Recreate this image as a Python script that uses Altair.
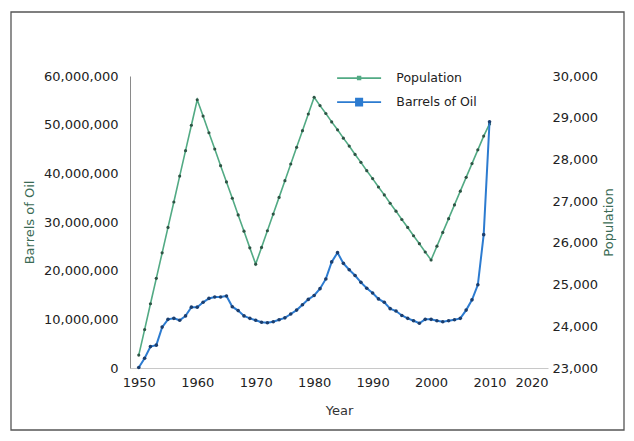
import altair as alt
import pandas as pd

years = list(range(1950, 2011))

oil = [
    100000, 2000000, 4400000, 4700000, 8400000, 10000000, 10200000, 9800000, 10700000, 12500000,
    12500000, 13500000, 14300000, 14600000, 14600000, 14800000, 12600000, 11800000, 10700000, 10200000,
    9800000, 9400000, 9300000, 9500000, 9900000, 10300000, 11100000, 11900000, 13000000, 14100000,
    14900000, 16300000, 18300000, 21800000, 23700000, 21500000, 20200000, 19000000, 17600000, 16400000,
    15400000, 14200000, 13500000, 12200000, 11700000, 10800000, 10200000, 9700000, 9200000, 10000000,
    10000000, 9700000, 9500000, 9700000, 9900000, 10200000, 11900000, 14000000, 17100000, 27400000,
    50600000,
]

population = [
    23310, 23920, 24540, 25150, 25760, 26370, 26980, 27600, 28210, 28820,
    29430, 29040, 28640, 28250, 27850, 27460, 27070, 26670, 26280, 25880,
    25490, 25890, 26290, 26690, 27090, 27490, 27890, 28290, 28690, 29090,
    29490, 29290, 29100, 28900, 28710, 28510, 28320, 28120, 27930, 27730,
    27540, 27340, 27150, 26950, 26760, 26560, 26370, 26170, 25980, 25780,
    25590, 25920, 26250, 26580, 26910, 27240, 27570, 27900, 28230, 28560,
    28850,
]

pop_name = "Population"
oil_name = "Barrels of Oil"
pop_color = "#52aa84"
oil_color = "#2c7bd0"
oil_ticks = [0, 10000000, 20000000, 30000000, 40000000, 50000000, 60000000]
pop_ticks = [23000, 24000, 25000, 26000, 27000, 28000, 29000, 30000]
year_ticks = [1950, 1960, 1970, 1980, 1990, 2000, 2010, 2020]

df = pd.DataFrame({"Year": years, "Oil": oil, "Population": population})

W, H = 418, 292
FONT = "DejaVu Sans"
TITLE_GREEN = "#3b6b55"

# legend symbols drawn with strokes only: a line with a small marker in the middle
path_pop = "M-3,0L3,0M-0.3,-0.2L0.3,-0.2M-0.3,0L0.3,0M-0.3,0.2L0.3,0.2"
path_oil = ("M-3,0L3,0M-0.55,-0.5L0.55,-0.5M-0.55,-0.3L0.55,-0.3M-0.55,-0.1L0.55,-0.1"
            "M-0.55,0.1L0.55,0.1M-0.55,0.3L0.55,0.3M-0.55,0.5L0.55,0.5")


def make_legend(y, shape):
    return alt.Legend(
        title=None,
        orient="none",
        legendX=220.6,
        legendY=y,
        padding=0,
        labelFont=FONT,
        labelFontSize=12.5,
        labelColor="#222222",
        labelOffset=28.7,
        symbolType=shape,
        symbolSize=215,
        symbolStrokeWidth=1.6,
        symbolOpacity=1,
    )


x_enc = alt.X(
    "Year:Q",
    scale=alt.Scale(domain=[1948.5, 2020], nice=False, zero=False),
    axis=alt.Axis(
        values=year_ticks, format="d", title="Year", grid=False, ticks=False,
        labelPadding=8, titlePadding=15, domainColor="#c8c8c8", domainWidth=1,
        labelFont=FONT, labelFontSize=13, labelColor="#222222",
        titleFont=FONT, titleFontSize=13, titleFontWeight="normal", titleColor="#333333",
    ),
)

pop_y = alt.Y(
    "Population:Q",
    scale=alt.Scale(domain=[23000, 30000], nice=False, zero=False),
    axis=alt.Axis(
        orient="right", values=pop_ticks, format=",d", title="Population", grid=False,
        ticks=False, domain=False, labelPadding=4, titlePadding=18, titleAngle=270,
        labelFont=FONT, labelFontSize=13, labelColor="#222222",
        titleFont=FONT, titleFontSize=13, titleFontWeight="normal", titleColor=TITLE_GREEN,
    ),
)

oil_y = alt.Y(
    "Oil:Q",
    scale=alt.Scale(domain=[0, 60000000], nice=False),
    axis=alt.Axis(
        orient="left", values=oil_ticks, format=",d", title="Barrels of Oil", grid=False,
        ticks=False, domainColor="#8a8a8a", domainWidth=1, labelPadding=12, titlePadding=7,
        labelFont=FONT, labelFontSize=13, labelColor="#222222",
        titleFont=FONT, titleFontSize=13, titleFontWeight="normal", titleColor=TITLE_GREEN,
    ),
)

base = alt.Chart(df)

pop_line = base.transform_calculate(series_p="'" + pop_name + "'").mark_line(strokeWidth=1.6).encode(
    x=x_enc, y=pop_y,
    color=alt.Color("series_p:N", scale=alt.Scale(domain=[pop_name], range=[pop_color]),
                    legend=make_legend(-6.4, path_pop)),
)
pop_pts = base.mark_point(filled=True, size=10, color="#2d5444", opacity=1).encode(x=x_enc, y=pop_y)

oil_line = base.transform_calculate(series_o="'" + oil_name + "'").mark_line(strokeWidth=2).encode(
    x=x_enc, y=oil_y,
    stroke=alt.Stroke("series_o:N", scale=alt.Scale(domain=[oil_name], range=[oil_color]),
                      legend=make_legend(17.6, path_oil)),
)
oil_pts = base.mark_point(filled=True, size=13, color="#1b3e6e", opacity=1).encode(x=x_enc, y=oil_y)

frame = alt.Chart(pd.DataFrame({"a": [0]})).mark_rect(
    fill="transparent", stroke="#555555", strokeWidth=1.3
).encode(
    x=alt.value(-119), x2=alt.value(494), y=alt.value(-64), y2=alt.value(354)
)

chart = alt.layer(
    alt.layer(pop_line, pop_pts),
    alt.layer(oil_line, oil_pts),
    frame,
).resolve_scale(y="independent").properties(
    width=W,
    height=H,
    autosize=alt.AutoSizeParams(type="none"),
    padding={"left": 122, "top": 68, "right": 78, "bottom": 65},
    background="white",
).configure_view(stroke=None)

chart.save("out.html", embed_options={"renderer": "svg", "actions": False})
